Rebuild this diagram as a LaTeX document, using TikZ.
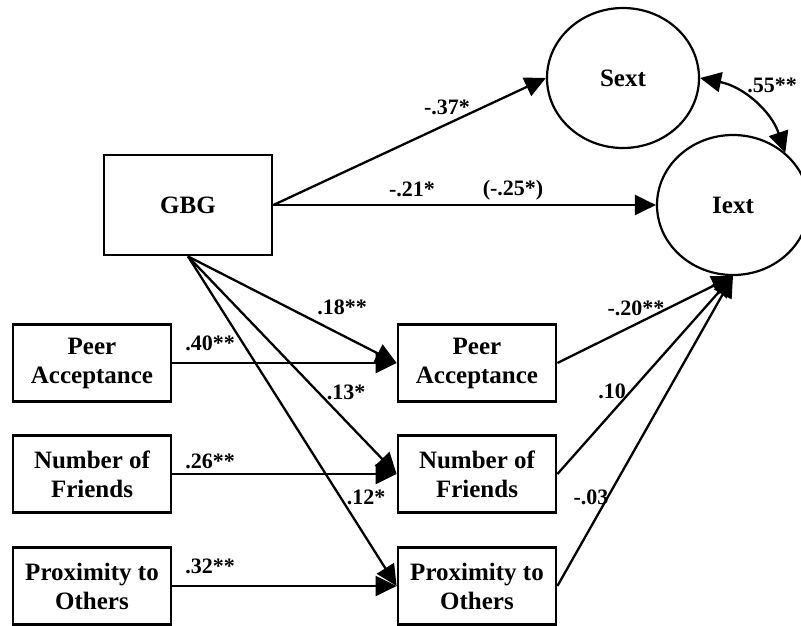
\documentclass[tikz,border=0pt]{standalone}
\usepackage{fontspec}
\setmainfont{Liberation Serif}
\usetikzlibrary{arrows.meta,positioning,shapes.geometric}

\begin{document}
\begin{tikzpicture}[x=1pt,y=-1pt,
  >={Triangle[length=21pt,width=20pt]},
  box/.style={draw,line width=2.8pt,minimum width=158pt,minimum height=77pt,align=center,font=\fontsize{25}{29}\selectfont\bfseries},
  latent/.style={draw,ellipse,line width=2.2pt,minimum width=152pt,minimum height=140pt,font=\fontsize{25}{29}\selectfont\bfseries},
  coef/.style={font=\fontsize{22}{24}\selectfont\bfseries,inner sep=0pt},
  effect/.style={->,line width=2.3pt}]
\useasboundingbox (0,0) rectangle (801,625);
\clip (0,0) rectangle (801,625);
\node[box,minimum width=168pt,minimum height=100pt] (gbg) at (188,205) {GBG};
\node[latent] (sext) at (623,78) {Sext};
\node[latent] (iext) at (733,205) {Iext};
\node[box] (peer0) at (92,363) {Peer\\Acceptance};
\node[box] (friends0) at (92,474) {Number of\\Friends};
\node[box] (prox0) at (92,586) {Proximity to\\Others};
\node[box] (peer1) at (477,363) {Peer\\Acceptance};
\node[box] (friends1) at (477,474) {Number of\\Friends};
\node[box] (prox1) at (477,586) {Proximity to\\Others};
\draw[effect] (gbg.east) -- (sext.west);
\draw[effect] (gbg.east) -- (iext.west);
\draw[<->,line width=2.3pt] (sext.east) to[bend left=30] (iext.45);
\draw[effect] (gbg.south) -- (peer1.west);
\draw[effect] (gbg.south) -- (friends1.west);
\draw[effect] (gbg.south) -- (prox1.west);
\draw[effect] (peer0) -- (peer1);
\draw[effect] (friends0) -- (friends1);
\draw[effect] (prox0) -- (prox1);
\draw[effect] (peer1.east) -- (iext.south);
\draw[effect] (friends1.east) -- (iext.south);
\draw[effect] (prox1.east) -- (iext.south);
% path coefficients
\node[coef] (b37) at (447,107) {-.37*};
\node[coef] (b21) at (412,189) {-.21*};
\node[coef] (b25) at (513,190) {(-.25*)};
\node[coef] (r55) at (772,85) {.55**};
\node[coef] (b18) at (342,307) {.18**};
\node[coef] (b40) at (210,343) {.40**};
\node[coef] (b13) at (346,392) {.13*};
\node[coef] (b26) at (210,461) {.26**};
\node[coef] (b12) at (366,497) {.12*};
\node[coef] (b32) at (210,566) {.32**};
\node[coef] (b20) at (636,308) {-.20**};
\node[coef] (b10) at (612,391) {.10};
\node[coef] (b03) at (591,497) {-.03};
\end{tikzpicture}
\end{document}
